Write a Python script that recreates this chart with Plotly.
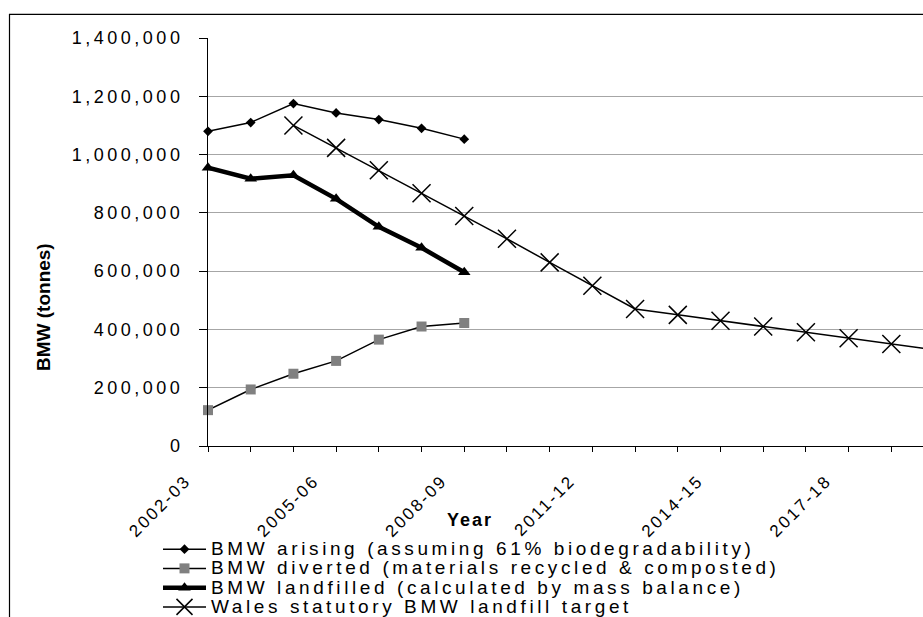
import plotly.graph_objects as go

years = ['2002-03', '2003-04', '2004-05', '2005-06', '2006-07', '2007-08', '2008-09',
         '2009-10', '2010-11', '2011-12', '2012-13', '2013-14', '2014-15', '2015-16',
         '2016-17', '2017-18', '2018-19', '2019-20']
label_years = ['2002-03', '2005-06', '2008-09', '2011-12', '2014-15', '2017-18']

arising_years = years[:7]
arising = [1080000, 1110000, 1175000, 1143000, 1120000, 1090000, 1053000]
diverted = [123000, 194000, 248000, 292000, 365000, 410000, 422000]
landfilled = [955000, 917000, 929000, 848000, 752000, 680000, 596000]

target_years = years[2:]
target = [1100000, 1023000, 946000, 867000, 789000, 711000, 630000, 550000,
          470000, 450000, 430000, 410000, 390000, 370000, 350000, 330000]

y_ticks = [0, 200000, 400000, 600000, 800000, 1000000, 1200000, 1400000]

SANS = 'Liberation Sans, Arial, sans-serif'

fig = go.Figure()
fig.add_trace(go.Scatter(
    x=arising_years, y=arising, mode='lines+markers', cliponaxis=False,
    name='BMW arising (assuming 61% biodegradability)',
    line=dict(color='black', width=1.5),
    marker=dict(symbol='diamond', size=7.5, color='black')))
fig.add_trace(go.Scatter(
    x=arising_years, y=diverted, mode='lines+markers', cliponaxis=False,
    name='BMW diverted (materials recycled & composted)',
    line=dict(color='black', width=1.5),
    marker=dict(symbol='square', size=10, color='#808080')))
fig.add_trace(go.Scatter(
    x=arising_years, y=landfilled, mode='lines+markers', cliponaxis=False,
    name='BMW landfilled (calculated by mass balance)',
    line=dict(color='black', width=4.5),
    marker=dict(symbol='triangle-up', size=11, color='black')))
fig.add_trace(go.Scatter(
    x=target_years, y=target, mode='lines+markers', cliponaxis=False,
    name='Wales statutory BMW landfill target',
    line=dict(color='black', width=1.5),
    marker=dict(symbol='x-thin-open', size=18, color='black',
                line=dict(color='black', width=1.5))))

W, H = 923, 617
L, R, T, B = 208, 0, 38, 171
pw, ph = W - L - R, H - T - B


def px_x(x):
    return (x - L) / pw


def px_y(y):
    return (H - B - y) / ph


fig.update_layout(
    width=W, height=H,
    margin=dict(l=L, r=R, t=T, b=B, pad=0, autoexpand=False),
    paper_bgcolor='white', plot_bgcolor='white',
    showlegend=True,
    legend=dict(
        x=px_x(158), y=px_y(534.5), xanchor='left', yanchor='top',
        xref='paper', yref='paper',
        font=dict(family=SANS, size=12.5, color='black'),
        bgcolor='rgba(0,0,0,0)', borderwidth=0, itemwidth=43,
        tracegroupgap=0, traceorder='normal'),
    xaxis=dict(
        type='category', categoryorder='array', categoryarray=years,
        range=[0, (923 - 208.3) / 42.69],
        tickmode='array', tickvals=years,
        ticktext=[y if y in label_years else '' for y in years],
        tickangle=-45, ticks='outside', ticklen=5, tickcolor='black',
        ticklabelshift=-22, ticklabelstandoff=12,
        tickfont=dict(family=SANS, size=17, color='black'),
        showline=True, linecolor='black', linewidth=1,
        showgrid=False, zeroline=False),
    yaxis=dict(
        range=[0, 1400000], tickmode='array', tickvals=y_ticks,
        tickformat=',d', ticks='outside', ticklen=8, tickcolor='black',
        ticklabelstandoff=12,
        tickfont=dict(family=SANS, size=18, color='black'),
        showline=True, linecolor='black', linewidth=1,
        showgrid=True, gridcolor='#a6a6a6', gridwidth=1, zeroline=False),
    shapes=[dict(type='rect', xref='paper', yref='paper',
                 x0=px_x(9.5), x1=1.1, y0=-0.8, y1=px_y(14.3),
                 line=dict(color='black', width=1.2), fillcolor='rgba(0,0,0,0)',
                 layer='below')],
    annotations=[
        dict(text='<b>BMW (tonnes)</b>', xref='paper', yref='paper',
             x=px_x(43), y=px_y(307), textangle=-90, showarrow=False,
             xanchor='center', yanchor='middle',
             font=dict(family=SANS, size=19, color='black')),
        dict(text='<b>Year</b>', xref='paper', yref='paper',
             x=px_x(470), y=px_y(520), showarrow=False,
             xanchor='center', yanchor='middle',
             font=dict(family=SANS, size=18, color='black')),
    ],
)

post = r"""
document.body.style.margin = '0';
document.body.style.overflow = 'hidden';
var gd = document.getElementById('{plot_id}');
gd.querySelectorAll('.xtick text').forEach(function(t){ t.style.letterSpacing = '2.4px'; });
gd.querySelectorAll('.ytick text').forEach(function(t){ t.style.letterSpacing = '3.5px'; });
gd.querySelectorAll('.annotation-text').forEach(function(t){
  if (t.textContent === 'Year') { t.style.letterSpacing = '2px'; }
});
gd.querySelectorAll('.legend [clip-path]').forEach(function(e){ e.removeAttribute('clip-path'); });
gd.querySelectorAll('.legendtext').forEach(function(t){
  t.style.fontSize = '19px';
  t.style.letterSpacing = '3.6px';
  var y = parseFloat(t.getAttribute('y') || '0');
  t.setAttribute('y', y + 1.2);
});
"""

fig.write_html("out.html", post_script=post,
               config={'displayModeBar': False, 'staticPlot': True})
